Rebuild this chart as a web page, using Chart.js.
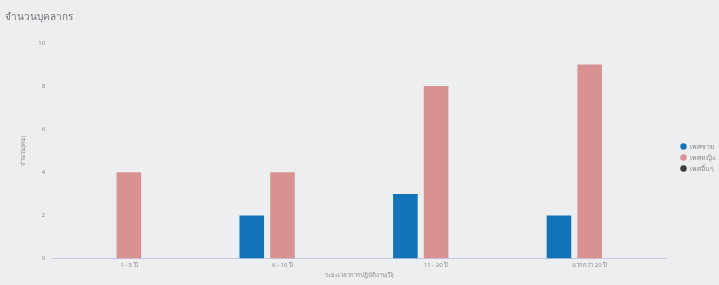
<!DOCTYPE html>
<html>
<head>
<meta charset="utf-8">
<script src="https://cdn.jsdelivr.net/npm/chart.js@4"></script>
<style>
  html, body { margin: 0; padding: 0; background: #eceef0; }
  #wrap { width: 719px; height: 285px; }
</style>
</head>
<body>
<div id="wrap"><canvas id="maincanvas"></canvas></div>
<script>
var categories = ["1 - 5 ปี", "6 - 10 ปี", "11 - 20 ปี", "มากกว่า 20 ปี"];
var male = [0, 2, 3, 2];
var female = [4, 4, 8, 9];
var other = [0, 0, 0, 0];
var yTicks = [0, 2, 4, 6, 8, 10];

Chart.defaults.font.family = "'Noto Sans', 'DejaVu Sans', sans-serif";
Chart.defaults.color = "#8a8d92";

// leave a gap between the plot and the legend, and sit the legend a bit lower
var legendGap = {
    id: "legendGap",
    afterInit: function (chart) {
        var lg = chart.legend;
        if (!lg) return;
        var fit = lg.fit;
        lg.fit = function () { fit.call(this); this.width += 10; };
        var draw = lg.draw;
        lg.draw = function () {
            this.ctx.save();
            this.ctx.translate(10, 18);
            draw.call(this);
            this.ctx.restore();
        };
    }
};

var ctx = document.getElementById("maincanvas").getContext("2d");
var chart = new Chart(ctx, {
    type: "bar",
    data: {
        labels: categories,
        datasets: [
            { label: "เพศชาย", data: male, backgroundColor: "#1273b9" },
            { label: "เพศหญิง", data: female, backgroundColor: "#d99292" },
            { label: "เพศอื่นๆ", data: other, backgroundColor: "#3a3a3a" }
        ]
    },
    options: {
        responsive: true,
        maintainAspectRatio: false,
        animation: false,
        categoryPercentage: 0.6,
        barPercentage: 0.8,
        layout: { padding: { left: 5, right: -6, top: 0, bottom: 6 } },
        plugins: {
            title: {
                display: true,
                text: "จำนวนบุคลากร",
                align: "start",
                color: "#6f7378",
                font: { size: 10, weight: "normal" },
                padding: { top: 11, bottom: 20 }
            },
            legend: {
                position: "right",
                labels: {
                    usePointStyle: true,
                    pointStyle: "circle",
                    boxWidth: 6,
                    boxHeight: 4.5,
                    padding: 4,
                    font: { size: 7 }
                }
            },
            tooltip: { enabled: false }
        },
        scales: {
            x: {
                grid: { display: false, drawTicks: false },
                border: { color: "#c5c9e6" },
                ticks: { font: { size: 6 }, padding: 3 },
                title: { display: true, text: "ระยะเวลาการปฏิบัติงาน(ปี)", font: { size: 6 }, padding: { top: 0, bottom: 0 } }
            },
            y: {
                min: 0,
                max: 10,
                grid: { display: false, drawTicks: false },
                border: { display: false },
                afterBuildTicks: function (axis) {
                    axis.ticks = yTicks.map(function (v) { return { value: v }; });
                },
                ticks: { font: { size: 6 }, padding: 7 },
                title: { display: true, text: "จำนวน(คน)", font: { size: 6 }, padding: { top: 15, bottom: 4 } }
            }
        }
    },
    plugins: [legendGap]
});
</script>
</body>
</html>
